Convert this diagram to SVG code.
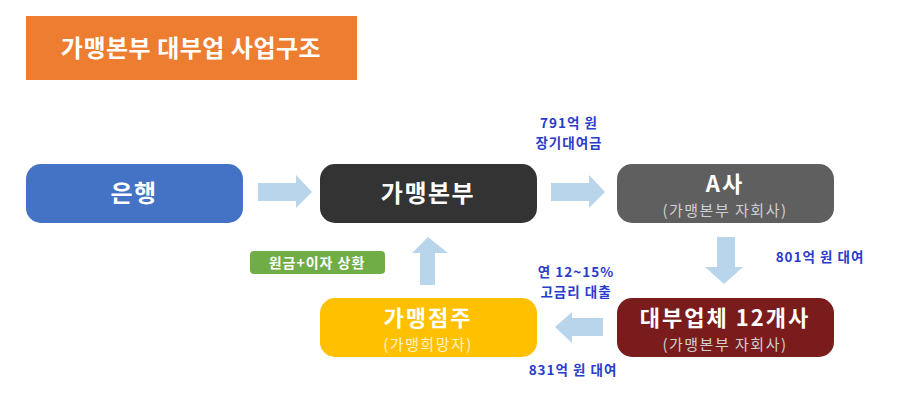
<svg xmlns="http://www.w3.org/2000/svg" width="900" height="405" viewBox="0 0 900 405">
<style>
text{font-family:"Noto Sans CJK KR","Noto Sans",sans-serif;text-anchor:middle}
.t{fill:#fff;font-weight:bold;font-size:24px;letter-spacing:1.5px}
.t2{fill:#fff;font-weight:bold;font-size:22px;letter-spacing:2px}
.s{fill:#d0d0d0;font-size:15px;letter-spacing:1.5px}
.b{fill:#2a3ccc;font-weight:bold;font-size:13.5px;letter-spacing:1px}
.arr{fill:#b9d5ec}
</style>
<rect width="900" height="405" fill="#fff"/>
<g id="title">
<rect x="26" y="16" width="331" height="64" fill="#ed7d31"/>
<text x="191" y="57" style="fill:#fff;font-weight:bold;font-size:24px;letter-spacing:0.5px">가맹본부 대부업 사업구조</text>
</g>
<g id="bank">
<rect x="26" y="164" width="217" height="59" rx="15" fill="#4472c4"/>
<text class="t" x="134" y="202">은행</text>
</g>
<g id="hq">
<rect x="320" y="164" width="217" height="59" rx="15" fill="#333333"/>
<text class="t" x="428" y="202">가맹본부</text>
</g>
<g id="a">
<rect x="617" y="164" width="217" height="59" rx="15" fill="#5f5f5f"/>
<text class="t2" x="725" y="192">A사</text>
<text class="s" x="725" y="216">(가맹본부 자회사)</text>
</g>
<g id="lender">
<rect x="617" y="298" width="217" height="59" rx="15" fill="#7a1c1c"/>
<text class="t2" x="725" y="326">대부업체 12개사</text>
<text class="s" x="725" y="350">(가맹본부 자회사)</text>
</g>
<g id="store">
<rect x="320" y="298" width="217" height="59" rx="15" fill="#ffc000"/>
<text class="t2" x="428" y="326">가맹점주</text>
<text class="s" x="428" y="350" style="fill:#fff3c8">(가맹희망자)</text>
</g>
<g id="connectors">
<polygon class="arr" points="258,183 296,183 296,175 312,192 296,208 296,201 258,201"/>
<polygon class="arr" points="551,183 589,183 589,175 605,192 589,208 589,201 551,201"/>
<polygon class="arr" points="717,237 735,237 735,267 743,267 724,284 705,267 717,267"/>
<polygon class="arr" points="603,318 572,318 572,312 555,327 572,343 572,336 603,336"/>
<polygon class="arr" points="420,285 435,285 435,253 448,253 428,237 412,253 420,253"/>
</g>
<g id="labels">
<text class="b" x="569" y="128">791억 원</text>
<text class="b" x="569" y="148">장기대여금</text>
<text class="b" x="820" y="262">801억 원 대여</text>
<text class="b" x="576" y="277">연 12~15%</text>
<text class="b" x="576" y="297">고금리 대출</text>
<text class="b" x="573" y="375">831억 원 대여</text>
<rect x="250" y="251" width="135" height="23" rx="4" fill="#70ad47"/>
<text x="317" y="268" style="fill:#fff;font-weight:bold;font-size:14px;letter-spacing:1px">원금+이자 상환</text>
</g>
</svg>
